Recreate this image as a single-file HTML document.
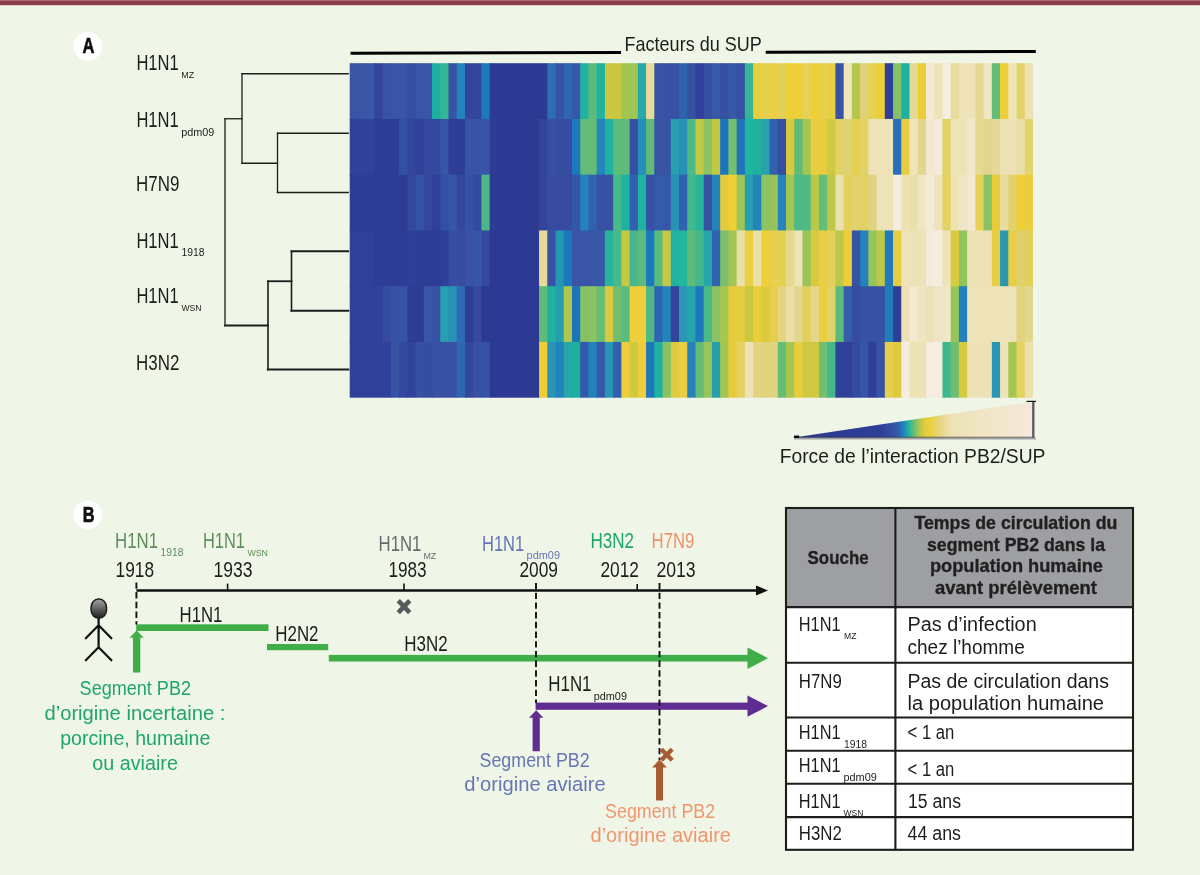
<!DOCTYPE html>
<html lang="fr"><head><meta charset="utf-8"><title>Figure PB2/SUP</title>
<style>html,body{margin:0;padding:0;background:#eff6e7;}body{width:1200px;height:875px;overflow:hidden;}svg{display:block;font-family:"Liberation Sans", sans-serif;}</style></head><body>
<svg width="1200" height="875" viewBox="0 0 1200 875">
<defs>
<linearGradient id="lg" x1="793.75" x2="1034.5" y1="0" y2="0" gradientUnits="userSpaceOnUse">
<stop offset="0.0010" stop-color="#2b3990"/>
<stop offset="0.3583" stop-color="#2e3f98"/>
<stop offset="0.4123" stop-color="#3652a4"/>
<stop offset="0.4372" stop-color="#3060af"/>
<stop offset="0.4579" stop-color="#1f86c0"/>
<stop offset="0.4766" stop-color="#1fb2a0"/>
<stop offset="0.4995" stop-color="#6abd74"/>
<stop offset="0.5244" stop-color="#b5c84b"/>
<stop offset="0.5493" stop-color="#e8cd3c"/>
<stop offset="0.5742" stop-color="#ecd045"/>
<stop offset="0.6075" stop-color="#e6d683"/>
<stop offset="0.6573" stop-color="#ede2b6"/>
<stop offset="0.8567" stop-color="#f3e6cc"/>
<stop offset="1.0000" stop-color="#f6e8dc"/>
</linearGradient>
<linearGradient id="hd" x1="0" y1="0" x2="0" y2="1"><stop offset="0" stop-color="#a2a2a2"/><stop offset="0.5" stop-color="#626262"/><stop offset="1" stop-color="#1c1c1c"/></linearGradient>
</defs>
<rect width="1200" height="875" fill="#eff6e7"/>
<rect width="1200" height="5.2" fill="#8b3d4e"/><rect width="1200" height="1" fill="#a96a77"/>
<g>
<rect x="349.70" y="63.20" width="17.47" height="56.75" fill="#3a55a5"/>
<rect x="366.17" y="63.20" width="9.23" height="56.75" fill="#3b58a6"/>
<rect x="374.40" y="63.20" width="9.23" height="56.75" fill="#31459b"/>
<rect x="382.63" y="63.20" width="9.23" height="56.75" fill="#3953a4"/>
<rect x="390.86" y="63.20" width="17.47" height="56.75" fill="#3a55a5"/>
<rect x="407.33" y="63.20" width="9.23" height="56.75" fill="#364fa2"/>
<rect x="415.56" y="63.20" width="17.47" height="56.75" fill="#3a55a5"/>
<rect x="432.03" y="63.20" width="9.23" height="56.75" fill="#1cb0a0"/>
<rect x="440.26" y="63.20" width="9.23" height="56.75" fill="#35b794"/>
<rect x="448.49" y="63.20" width="9.23" height="56.75" fill="#3953a4"/>
<rect x="456.72" y="63.20" width="9.23" height="56.75" fill="#2483bc"/>
<rect x="464.96" y="63.20" width="17.47" height="56.75" fill="#34469c"/>
<rect x="481.42" y="63.20" width="9.23" height="56.75" fill="#1b79bd"/>
<rect x="489.65" y="63.20" width="58.63" height="56.75" fill="#2c3a93"/>
<rect x="547.28" y="63.20" width="9.23" height="56.75" fill="#2e6cb5"/>
<rect x="555.51" y="63.20" width="9.23" height="56.75" fill="#3953a4"/>
<rect x="563.75" y="63.20" width="9.23" height="56.75" fill="#2f66b2"/>
<rect x="571.98" y="63.20" width="9.23" height="56.75" fill="#3558a8"/>
<rect x="580.21" y="63.20" width="9.23" height="56.75" fill="#22b29f"/>
<rect x="588.44" y="63.20" width="9.23" height="56.75" fill="#5abb7e"/>
<rect x="596.68" y="63.20" width="9.23" height="56.75" fill="#1fb3a0"/>
<rect x="604.91" y="63.20" width="17.47" height="56.75" fill="#cbc740"/>
<rect x="621.37" y="63.20" width="9.23" height="56.75" fill="#a2c653"/>
<rect x="629.61" y="63.20" width="9.23" height="56.75" fill="#a0c554"/>
<rect x="637.84" y="63.20" width="9.23" height="56.75" fill="#26a9a7"/>
<rect x="646.07" y="63.20" width="9.23" height="56.75" fill="#e8db9a"/>
<rect x="654.30" y="63.20" width="9.23" height="56.75" fill="#3953a4"/>
<rect x="662.54" y="63.20" width="9.23" height="56.75" fill="#3852a4"/>
<rect x="670.77" y="63.20" width="9.23" height="56.75" fill="#3752a4"/>
<rect x="679.00" y="63.20" width="9.23" height="56.75" fill="#2f63b0"/>
<rect x="687.23" y="63.20" width="9.23" height="56.75" fill="#3650a2"/>
<rect x="695.47" y="63.20" width="9.23" height="56.75" fill="#31409a"/>
<rect x="703.70" y="63.20" width="9.23" height="56.75" fill="#364fa2"/>
<rect x="711.93" y="63.20" width="9.23" height="56.75" fill="#345aa8"/>
<rect x="720.16" y="63.20" width="9.23" height="56.75" fill="#3750a2"/>
<rect x="728.40" y="63.20" width="9.23" height="56.75" fill="#3558a7"/>
<rect x="736.63" y="63.20" width="9.23" height="56.75" fill="#3750a2"/>
<rect x="744.86" y="63.20" width="9.23" height="56.75" fill="#32b694"/>
<rect x="753.09" y="63.20" width="9.23" height="56.75" fill="#e8cd3c"/>
<rect x="761.33" y="63.20" width="9.23" height="56.75" fill="#e5cf4e"/>
<rect x="769.56" y="63.20" width="9.23" height="56.75" fill="#eccf3f"/>
<rect x="777.79" y="63.20" width="9.23" height="56.75" fill="#e2d05c"/>
<rect x="786.02" y="63.20" width="17.47" height="56.75" fill="#efcf38"/>
<rect x="802.49" y="63.20" width="9.23" height="56.75" fill="#e4d157"/>
<rect x="810.72" y="63.20" width="9.23" height="56.75" fill="#eecf3a"/>
<rect x="818.95" y="63.20" width="9.23" height="56.75" fill="#e6d04e"/>
<rect x="827.19" y="63.20" width="9.23" height="56.75" fill="#e9ce40"/>
<rect x="835.42" y="63.20" width="9.23" height="56.75" fill="#3853a4"/>
<rect x="843.65" y="63.20" width="9.23" height="56.75" fill="#efe4bc"/>
<rect x="851.88" y="63.20" width="9.23" height="56.75" fill="#b3c84a"/>
<rect x="860.12" y="63.20" width="9.23" height="56.75" fill="#e0d27a"/>
<rect x="868.35" y="63.20" width="9.23" height="56.75" fill="#e5d052"/>
<rect x="876.58" y="63.20" width="9.23" height="56.75" fill="#eccd3a"/>
<rect x="884.81" y="63.20" width="9.23" height="56.75" fill="#2f3f98"/>
<rect x="893.05" y="63.20" width="9.23" height="56.75" fill="#85c166"/>
<rect x="901.28" y="63.20" width="9.23" height="56.75" fill="#1db1a2"/>
<rect x="909.51" y="63.20" width="9.23" height="56.75" fill="#e5d993"/>
<rect x="917.74" y="63.20" width="9.23" height="56.75" fill="#ebcd38"/>
<rect x="925.98" y="63.20" width="9.23" height="56.75" fill="#f3e9d5"/>
<rect x="934.21" y="63.20" width="9.23" height="56.75" fill="#eee3b7"/>
<rect x="942.44" y="63.20" width="9.23" height="56.75" fill="#f6ece2"/>
<rect x="950.67" y="63.20" width="9.23" height="56.75" fill="#e6dc9e"/>
<rect x="958.91" y="63.20" width="17.47" height="56.75" fill="#eee3b8"/>
<rect x="975.37" y="63.20" width="9.23" height="56.75" fill="#e4d990"/>
<rect x="983.60" y="63.20" width="9.23" height="56.75" fill="#f1e6c4"/>
<rect x="991.84" y="63.20" width="9.23" height="56.75" fill="#65bc78"/>
<rect x="1000.07" y="63.20" width="9.23" height="56.75" fill="#eecf3a"/>
<rect x="1008.30" y="63.20" width="9.23" height="56.75" fill="#efe4b8"/>
<rect x="1016.53" y="63.20" width="9.23" height="56.75" fill="#e3d36b"/>
<rect x="1024.77" y="63.20" width="8.23" height="56.75" fill="#ece1b3"/>
<rect x="349.70" y="118.95" width="25.70" height="56.75" fill="#2f419a"/>
<rect x="374.40" y="118.95" width="25.70" height="56.75" fill="#2d3d96"/>
<rect x="399.10" y="118.95" width="9.23" height="56.75" fill="#3450a3"/>
<rect x="407.33" y="118.95" width="9.23" height="56.75" fill="#32479d"/>
<rect x="415.56" y="118.95" width="9.23" height="56.75" fill="#2f409a"/>
<rect x="423.79" y="118.95" width="9.23" height="56.75" fill="#34479c"/>
<rect x="432.03" y="118.95" width="9.23" height="56.75" fill="#33499e"/>
<rect x="440.26" y="118.95" width="9.23" height="56.75" fill="#3856a6"/>
<rect x="448.49" y="118.95" width="17.47" height="56.75" fill="#2e3e97"/>
<rect x="464.96" y="118.95" width="9.23" height="56.75" fill="#3754a5"/>
<rect x="473.19" y="118.95" width="9.23" height="56.75" fill="#3855a5"/>
<rect x="481.42" y="118.95" width="9.23" height="56.75" fill="#3a55a5"/>
<rect x="489.65" y="118.95" width="50.40" height="56.75" fill="#2d3b95"/>
<rect x="539.05" y="118.95" width="9.23" height="56.75" fill="#33449a"/>
<rect x="547.28" y="118.95" width="9.23" height="56.75" fill="#384fa2"/>
<rect x="555.51" y="118.95" width="17.47" height="56.75" fill="#374da1"/>
<rect x="571.98" y="118.95" width="9.23" height="56.75" fill="#1b79bd"/>
<rect x="580.21" y="118.95" width="9.23" height="56.75" fill="#62bc78"/>
<rect x="588.44" y="118.95" width="9.23" height="56.75" fill="#64bc77"/>
<rect x="596.68" y="118.95" width="9.23" height="56.75" fill="#2484bb"/>
<rect x="604.91" y="118.95" width="9.23" height="56.75" fill="#1eb3a0"/>
<rect x="613.14" y="118.95" width="17.47" height="56.75" fill="#5fbb7a"/>
<rect x="629.61" y="118.95" width="9.23" height="56.75" fill="#3651a3"/>
<rect x="637.84" y="118.95" width="9.23" height="56.75" fill="#2490b7"/>
<rect x="646.07" y="118.95" width="9.23" height="56.75" fill="#60bb79"/>
<rect x="654.30" y="118.95" width="17.47" height="56.75" fill="#3852a4"/>
<rect x="670.77" y="118.95" width="9.23" height="56.75" fill="#28a0ae"/>
<rect x="679.00" y="118.95" width="9.23" height="56.75" fill="#2790b6"/>
<rect x="687.23" y="118.95" width="9.23" height="56.75" fill="#4cb986"/>
<rect x="695.47" y="118.95" width="9.23" height="56.75" fill="#c0c845"/>
<rect x="703.70" y="118.95" width="9.23" height="56.75" fill="#8cc363"/>
<rect x="711.93" y="118.95" width="9.23" height="56.75" fill="#c3c844"/>
<rect x="720.16" y="118.95" width="9.23" height="56.75" fill="#1c75bc"/>
<rect x="728.40" y="118.95" width="9.23" height="56.75" fill="#73be6f"/>
<rect x="736.63" y="118.95" width="9.23" height="56.75" fill="#1e73bb"/>
<rect x="744.86" y="118.95" width="9.23" height="56.75" fill="#1fb3a0"/>
<rect x="753.09" y="118.95" width="9.23" height="56.75" fill="#20b29e"/>
<rect x="761.33" y="118.95" width="9.23" height="56.75" fill="#27a3ab"/>
<rect x="769.56" y="118.95" width="9.23" height="56.75" fill="#3060af"/>
<rect x="777.79" y="118.95" width="9.23" height="56.75" fill="#364ea1"/>
<rect x="786.02" y="118.95" width="9.23" height="56.75" fill="#d9c93e"/>
<rect x="794.26" y="118.95" width="9.23" height="56.75" fill="#5fbb7a"/>
<rect x="802.49" y="118.95" width="9.23" height="56.75" fill="#a5c651"/>
<rect x="810.72" y="118.95" width="9.23" height="56.75" fill="#e8ce42"/>
<rect x="818.95" y="118.95" width="9.23" height="56.75" fill="#e8cd40"/>
<rect x="827.19" y="118.95" width="9.23" height="56.75" fill="#cdc943"/>
<rect x="835.42" y="118.95" width="9.23" height="56.75" fill="#e2d266"/>
<rect x="843.65" y="118.95" width="9.23" height="56.75" fill="#dfd176"/>
<rect x="851.88" y="118.95" width="9.23" height="56.75" fill="#e5d052"/>
<rect x="860.12" y="118.95" width="9.23" height="56.75" fill="#e3d266"/>
<rect x="868.35" y="118.95" width="25.70" height="56.75" fill="#eee3b8"/>
<rect x="893.05" y="118.95" width="9.23" height="56.75" fill="#2570b9"/>
<rect x="901.28" y="118.95" width="9.23" height="56.75" fill="#e7cd3f"/>
<rect x="909.51" y="118.95" width="9.23" height="56.75" fill="#eee4b8"/>
<rect x="917.74" y="118.95" width="9.23" height="56.75" fill="#e3d68c"/>
<rect x="925.98" y="118.95" width="9.23" height="56.75" fill="#f3e9d3"/>
<rect x="934.21" y="118.95" width="9.23" height="56.75" fill="#f5ebdd"/>
<rect x="942.44" y="118.95" width="9.23" height="56.75" fill="#e2d262"/>
<rect x="950.67" y="118.95" width="9.23" height="56.75" fill="#eee3b8"/>
<rect x="958.91" y="118.95" width="9.23" height="56.75" fill="#eee3b6"/>
<rect x="967.14" y="118.95" width="9.23" height="56.75" fill="#f2e6cb"/>
<rect x="975.37" y="118.95" width="9.23" height="56.75" fill="#e5d994"/>
<rect x="983.60" y="118.95" width="9.23" height="56.75" fill="#e3d58c"/>
<rect x="991.84" y="118.95" width="9.23" height="56.75" fill="#e5d898"/>
<rect x="1000.07" y="118.95" width="17.47" height="56.75" fill="#ede2b6"/>
<rect x="1016.53" y="118.95" width="9.23" height="56.75" fill="#e9dfa8"/>
<rect x="1024.77" y="118.95" width="8.23" height="56.75" fill="#e2d36e"/>
<rect x="349.70" y="174.70" width="58.63" height="56.75" fill="#2d3d96"/>
<rect x="407.33" y="174.70" width="9.23" height="56.75" fill="#32489d"/>
<rect x="415.56" y="174.70" width="9.23" height="56.75" fill="#3653a4"/>
<rect x="423.79" y="174.70" width="9.23" height="56.75" fill="#34499e"/>
<rect x="432.03" y="174.70" width="9.23" height="56.75" fill="#2f409a"/>
<rect x="440.26" y="174.70" width="9.23" height="56.75" fill="#3450a3"/>
<rect x="448.49" y="174.70" width="9.23" height="56.75" fill="#3656a6"/>
<rect x="456.72" y="174.70" width="9.23" height="56.75" fill="#33489d"/>
<rect x="464.96" y="174.70" width="9.23" height="56.75" fill="#3552a4"/>
<rect x="473.19" y="174.70" width="9.23" height="56.75" fill="#35499e"/>
<rect x="481.42" y="174.70" width="9.23" height="56.75" fill="#4cb885"/>
<rect x="489.65" y="174.70" width="50.40" height="56.75" fill="#2d3b95"/>
<rect x="539.05" y="174.70" width="9.23" height="56.75" fill="#33449a"/>
<rect x="547.28" y="174.70" width="25.70" height="56.75" fill="#374ca0"/>
<rect x="571.98" y="174.70" width="9.23" height="56.75" fill="#3555a6"/>
<rect x="580.21" y="174.70" width="9.23" height="56.75" fill="#2382bb"/>
<rect x="588.44" y="174.70" width="9.23" height="56.75" fill="#3062b0"/>
<rect x="596.68" y="174.70" width="17.47" height="56.75" fill="#3751a3"/>
<rect x="613.14" y="174.70" width="9.23" height="56.75" fill="#48b989"/>
<rect x="621.37" y="174.70" width="9.23" height="56.75" fill="#20b2a0"/>
<rect x="629.61" y="174.70" width="9.23" height="56.75" fill="#3060af"/>
<rect x="637.84" y="174.70" width="9.23" height="56.75" fill="#1db3a0"/>
<rect x="646.07" y="174.70" width="9.23" height="56.75" fill="#3650a2"/>
<rect x="654.30" y="174.70" width="9.23" height="56.75" fill="#335bab"/>
<rect x="662.54" y="174.70" width="9.23" height="56.75" fill="#3459a8"/>
<rect x="670.77" y="174.70" width="9.23" height="56.75" fill="#2892b5"/>
<rect x="679.00" y="174.70" width="9.23" height="56.75" fill="#3062b0"/>
<rect x="687.23" y="174.70" width="9.23" height="56.75" fill="#45b88b"/>
<rect x="695.47" y="174.70" width="9.23" height="56.75" fill="#24b59c"/>
<rect x="703.70" y="174.70" width="9.23" height="56.75" fill="#3750a2"/>
<rect x="711.93" y="174.70" width="9.23" height="56.75" fill="#2384bb"/>
<rect x="720.16" y="174.70" width="9.23" height="56.75" fill="#e4cb3e"/>
<rect x="728.40" y="174.70" width="9.23" height="56.75" fill="#efce37"/>
<rect x="736.63" y="174.70" width="9.23" height="56.75" fill="#9ac557"/>
<rect x="744.86" y="174.70" width="9.23" height="56.75" fill="#289fae"/>
<rect x="753.09" y="174.70" width="9.23" height="56.75" fill="#2383bb"/>
<rect x="761.33" y="174.70" width="9.23" height="56.75" fill="#8dc362"/>
<rect x="769.56" y="174.70" width="9.23" height="56.75" fill="#96c45b"/>
<rect x="777.79" y="174.70" width="9.23" height="56.75" fill="#2484bb"/>
<rect x="786.02" y="174.70" width="9.23" height="56.75" fill="#a2c653"/>
<rect x="794.26" y="174.70" width="9.23" height="56.75" fill="#4cb986"/>
<rect x="802.49" y="174.70" width="9.23" height="56.75" fill="#4fba84"/>
<rect x="810.72" y="174.70" width="9.23" height="56.75" fill="#bac848"/>
<rect x="818.95" y="174.70" width="9.23" height="56.75" fill="#66bd77"/>
<rect x="827.19" y="174.70" width="9.23" height="56.75" fill="#bec846"/>
<rect x="835.42" y="174.70" width="9.23" height="56.75" fill="#eadfb0"/>
<rect x="843.65" y="174.70" width="9.23" height="56.75" fill="#e4d15a"/>
<rect x="851.88" y="174.70" width="9.23" height="56.75" fill="#e2d26c"/>
<rect x="860.12" y="174.70" width="9.23" height="56.75" fill="#e2d266"/>
<rect x="868.35" y="174.70" width="9.23" height="56.75" fill="#e1d382"/>
<rect x="876.58" y="174.70" width="17.47" height="56.75" fill="#eee3b8"/>
<rect x="893.05" y="174.70" width="9.23" height="56.75" fill="#f6ece0"/>
<rect x="901.28" y="174.70" width="9.23" height="56.75" fill="#ece2b3"/>
<rect x="909.51" y="174.70" width="9.23" height="56.75" fill="#e9dfa8"/>
<rect x="917.74" y="174.70" width="9.23" height="56.75" fill="#f0e6c0"/>
<rect x="925.98" y="174.70" width="9.23" height="56.75" fill="#f4eada"/>
<rect x="934.21" y="174.70" width="9.23" height="56.75" fill="#eee4bc"/>
<rect x="942.44" y="174.70" width="9.23" height="56.75" fill="#e3d365"/>
<rect x="950.67" y="174.70" width="9.23" height="56.75" fill="#ede2b0"/>
<rect x="958.91" y="174.70" width="9.23" height="56.75" fill="#f0e5c6"/>
<rect x="967.14" y="174.70" width="9.23" height="56.75" fill="#f3e8d0"/>
<rect x="975.37" y="174.70" width="9.23" height="56.75" fill="#e4d158"/>
<rect x="983.60" y="174.70" width="9.23" height="56.75" fill="#89c264"/>
<rect x="991.84" y="174.70" width="9.23" height="56.75" fill="#e6cb3b"/>
<rect x="1000.07" y="174.70" width="9.23" height="56.75" fill="#e8dda0"/>
<rect x="1008.30" y="174.70" width="9.23" height="56.75" fill="#e1d16a"/>
<rect x="1016.53" y="174.70" width="9.23" height="56.75" fill="#eecf3a"/>
<rect x="1024.77" y="174.70" width="8.23" height="56.75" fill="#ebce40"/>
<rect x="349.70" y="230.45" width="25.70" height="56.75" fill="#2f409a"/>
<rect x="374.40" y="230.45" width="33.93" height="56.75" fill="#2d3d96"/>
<rect x="407.33" y="230.45" width="9.23" height="56.75" fill="#2f409a"/>
<rect x="415.56" y="230.45" width="25.70" height="56.75" fill="#2d3d96"/>
<rect x="440.26" y="230.45" width="9.23" height="56.75" fill="#2e3f98"/>
<rect x="448.49" y="230.45" width="17.47" height="56.75" fill="#384da1"/>
<rect x="464.96" y="230.45" width="9.23" height="56.75" fill="#3852a4"/>
<rect x="473.19" y="230.45" width="9.23" height="56.75" fill="#3856a6"/>
<rect x="481.42" y="230.45" width="9.23" height="56.75" fill="#354a9f"/>
<rect x="489.65" y="230.45" width="50.40" height="56.75" fill="#2c3a93"/>
<rect x="539.05" y="230.45" width="9.23" height="56.75" fill="#e8d998"/>
<rect x="547.28" y="230.45" width="9.23" height="56.75" fill="#3953a4"/>
<rect x="555.51" y="230.45" width="9.23" height="56.75" fill="#2696b5"/>
<rect x="563.75" y="230.45" width="9.23" height="56.75" fill="#1b79bd"/>
<rect x="571.98" y="230.45" width="9.23" height="56.75" fill="#3a55a5"/>
<rect x="580.21" y="230.45" width="17.47" height="56.75" fill="#3955a5"/>
<rect x="596.68" y="230.45" width="9.23" height="56.75" fill="#3658a7"/>
<rect x="604.91" y="230.45" width="9.23" height="56.75" fill="#26b59b"/>
<rect x="613.14" y="230.45" width="9.23" height="56.75" fill="#48b98a"/>
<rect x="621.37" y="230.45" width="9.23" height="56.75" fill="#c5c843"/>
<rect x="629.61" y="230.45" width="9.23" height="56.75" fill="#44b88c"/>
<rect x="637.84" y="230.45" width="9.23" height="56.75" fill="#5cbb7c"/>
<rect x="646.07" y="230.45" width="9.23" height="56.75" fill="#1c78bc"/>
<rect x="654.30" y="230.45" width="9.23" height="56.75" fill="#58ba7f"/>
<rect x="662.54" y="230.45" width="9.23" height="56.75" fill="#c6c843"/>
<rect x="670.77" y="230.45" width="9.23" height="56.75" fill="#1fb3a0"/>
<rect x="679.00" y="230.45" width="9.23" height="56.75" fill="#24b59c"/>
<rect x="687.23" y="230.45" width="9.23" height="56.75" fill="#5fbb7a"/>
<rect x="695.47" y="230.45" width="9.23" height="56.75" fill="#42b88d"/>
<rect x="703.70" y="230.45" width="9.23" height="56.75" fill="#26a5aa"/>
<rect x="711.93" y="230.45" width="9.23" height="56.75" fill="#3062b0"/>
<rect x="720.16" y="230.45" width="9.23" height="56.75" fill="#7bbf6b"/>
<rect x="728.40" y="230.45" width="9.23" height="56.75" fill="#a3c652"/>
<rect x="736.63" y="230.45" width="9.23" height="56.75" fill="#eadfa6"/>
<rect x="744.86" y="230.45" width="9.23" height="56.75" fill="#ebcf42"/>
<rect x="753.09" y="230.45" width="9.23" height="56.75" fill="#ebe0a8"/>
<rect x="761.33" y="230.45" width="9.23" height="56.75" fill="#eecf39"/>
<rect x="769.56" y="230.45" width="9.23" height="56.75" fill="#e6d04e"/>
<rect x="777.79" y="230.45" width="9.23" height="56.75" fill="#e5d050"/>
<rect x="786.02" y="230.45" width="9.23" height="56.75" fill="#e5d88f"/>
<rect x="794.26" y="230.45" width="9.23" height="56.75" fill="#eee3b5"/>
<rect x="802.49" y="230.45" width="9.23" height="56.75" fill="#97c55a"/>
<rect x="810.72" y="230.45" width="9.23" height="56.75" fill="#d6ca40"/>
<rect x="818.95" y="230.45" width="9.23" height="56.75" fill="#e8ce42"/>
<rect x="827.19" y="230.45" width="9.23" height="56.75" fill="#e4d058"/>
<rect x="835.42" y="230.45" width="9.23" height="56.75" fill="#bcc847"/>
<rect x="843.65" y="230.45" width="9.23" height="56.75" fill="#eecd38"/>
<rect x="851.88" y="230.45" width="9.23" height="56.75" fill="#3853a4"/>
<rect x="860.12" y="230.45" width="9.23" height="56.75" fill="#2381bb"/>
<rect x="868.35" y="230.45" width="9.23" height="56.75" fill="#96c55b"/>
<rect x="876.58" y="230.45" width="9.23" height="56.75" fill="#bdc846"/>
<rect x="884.81" y="230.45" width="9.23" height="56.75" fill="#217bbb"/>
<rect x="893.05" y="230.45" width="9.23" height="56.75" fill="#e8cd40"/>
<rect x="901.28" y="230.45" width="9.23" height="56.75" fill="#eee3b8"/>
<rect x="909.51" y="230.45" width="17.47" height="56.75" fill="#ece2b8"/>
<rect x="925.98" y="230.45" width="9.23" height="56.75" fill="#f5ebdd"/>
<rect x="934.21" y="230.45" width="9.23" height="56.75" fill="#f6ece0"/>
<rect x="942.44" y="230.45" width="9.23" height="56.75" fill="#ece3b8"/>
<rect x="950.67" y="230.45" width="9.23" height="56.75" fill="#d8ca3e"/>
<rect x="958.91" y="230.45" width="9.23" height="56.75" fill="#90c45f"/>
<rect x="967.14" y="230.45" width="25.70" height="56.75" fill="#ede2b6"/>
<rect x="991.84" y="230.45" width="9.23" height="56.75" fill="#e8ce42"/>
<rect x="1000.07" y="230.45" width="9.23" height="56.75" fill="#2a98b2"/>
<rect x="1008.30" y="230.45" width="9.23" height="56.75" fill="#e8ce44"/>
<rect x="1016.53" y="230.45" width="9.23" height="56.75" fill="#e0d16c"/>
<rect x="1024.77" y="230.45" width="8.23" height="56.75" fill="#e2d05a"/>
<rect x="349.70" y="286.20" width="33.93" height="56.75" fill="#2f419a"/>
<rect x="382.63" y="286.20" width="9.23" height="56.75" fill="#364ca0"/>
<rect x="390.86" y="286.20" width="9.23" height="56.75" fill="#3751a3"/>
<rect x="399.10" y="286.20" width="9.23" height="56.75" fill="#3853a4"/>
<rect x="407.33" y="286.20" width="17.47" height="56.75" fill="#2d3d96"/>
<rect x="423.79" y="286.20" width="9.23" height="56.75" fill="#3955a5"/>
<rect x="432.03" y="286.20" width="9.23" height="56.75" fill="#3852a4"/>
<rect x="440.26" y="286.20" width="9.23" height="56.75" fill="#279fb0"/>
<rect x="448.49" y="286.20" width="9.23" height="56.75" fill="#2592b6"/>
<rect x="456.72" y="286.20" width="9.23" height="56.75" fill="#2f6bb4"/>
<rect x="464.96" y="286.20" width="9.23" height="56.75" fill="#2e3e97"/>
<rect x="473.19" y="286.20" width="9.23" height="56.75" fill="#354a9f"/>
<rect x="481.42" y="286.20" width="58.63" height="56.75" fill="#2c3a93"/>
<rect x="539.05" y="286.20" width="9.23" height="56.75" fill="#5fbb7a"/>
<rect x="547.28" y="286.20" width="9.23" height="56.75" fill="#1fb2a0"/>
<rect x="555.51" y="286.20" width="9.23" height="56.75" fill="#259fae"/>
<rect x="563.75" y="286.20" width="9.23" height="56.75" fill="#b0c64c"/>
<rect x="571.98" y="286.20" width="9.23" height="56.75" fill="#1c75bc"/>
<rect x="580.21" y="286.20" width="9.23" height="56.75" fill="#84c166"/>
<rect x="588.44" y="286.20" width="9.23" height="56.75" fill="#8cc362"/>
<rect x="596.68" y="286.20" width="9.23" height="56.75" fill="#68bd75"/>
<rect x="604.91" y="286.20" width="9.23" height="56.75" fill="#d8ca40"/>
<rect x="613.14" y="286.20" width="9.23" height="56.75" fill="#72be70"/>
<rect x="621.37" y="286.20" width="9.23" height="56.75" fill="#5bbb7d"/>
<rect x="629.61" y="286.20" width="17.47" height="56.75" fill="#eece3a"/>
<rect x="646.07" y="286.20" width="9.23" height="56.75" fill="#4cb986"/>
<rect x="654.30" y="286.20" width="9.23" height="56.75" fill="#2f64b1"/>
<rect x="662.54" y="286.20" width="9.23" height="56.75" fill="#2385ba"/>
<rect x="670.77" y="286.20" width="9.23" height="56.75" fill="#33459b"/>
<rect x="679.00" y="286.20" width="9.23" height="56.75" fill="#2996b3"/>
<rect x="687.23" y="286.20" width="9.23" height="56.75" fill="#25a4ab"/>
<rect x="695.47" y="286.20" width="9.23" height="56.75" fill="#2078bc"/>
<rect x="703.70" y="286.20" width="9.23" height="56.75" fill="#49b988"/>
<rect x="711.93" y="286.20" width="9.23" height="56.75" fill="#8ac264"/>
<rect x="720.16" y="286.20" width="9.23" height="56.75" fill="#a6c650"/>
<rect x="728.40" y="286.20" width="9.23" height="56.75" fill="#e6cc3d"/>
<rect x="736.63" y="286.20" width="9.23" height="56.75" fill="#e4cc3f"/>
<rect x="744.86" y="286.20" width="9.23" height="56.75" fill="#c9c843"/>
<rect x="753.09" y="286.20" width="9.23" height="56.75" fill="#eccd38"/>
<rect x="761.33" y="286.20" width="9.23" height="56.75" fill="#dcca3e"/>
<rect x="769.56" y="286.20" width="9.23" height="56.75" fill="#e5ce4a"/>
<rect x="777.79" y="286.20" width="9.23" height="56.75" fill="#e4d481"/>
<rect x="786.02" y="286.20" width="9.23" height="56.75" fill="#e9dea6"/>
<rect x="794.26" y="286.20" width="9.23" height="56.75" fill="#e2d68d"/>
<rect x="802.49" y="286.20" width="9.23" height="56.75" fill="#e4d058"/>
<rect x="810.72" y="286.20" width="9.23" height="56.75" fill="#e4d78c"/>
<rect x="818.95" y="286.20" width="9.23" height="56.75" fill="#e9ce42"/>
<rect x="827.19" y="286.20" width="9.23" height="56.75" fill="#e2d26a"/>
<rect x="835.42" y="286.20" width="9.23" height="56.75" fill="#5fbb7a"/>
<rect x="843.65" y="286.20" width="9.23" height="56.75" fill="#355dab"/>
<rect x="851.88" y="286.20" width="9.23" height="56.75" fill="#364ea1"/>
<rect x="860.12" y="286.20" width="9.23" height="56.75" fill="#3853a4"/>
<rect x="868.35" y="286.20" width="17.47" height="56.75" fill="#3751a3"/>
<rect x="884.81" y="286.20" width="9.23" height="56.75" fill="#217cbb"/>
<rect x="893.05" y="286.20" width="9.23" height="56.75" fill="#2f3f98"/>
<rect x="901.28" y="286.20" width="9.23" height="56.75" fill="#ede2b6"/>
<rect x="909.51" y="286.20" width="9.23" height="56.75" fill="#f3e8d0"/>
<rect x="917.74" y="286.20" width="9.23" height="56.75" fill="#efe4be"/>
<rect x="925.98" y="286.20" width="9.23" height="56.75" fill="#ece1b8"/>
<rect x="934.21" y="286.20" width="9.23" height="56.75" fill="#efe5c2"/>
<rect x="942.44" y="286.20" width="9.23" height="56.75" fill="#f1e7c8"/>
<rect x="950.67" y="286.20" width="9.23" height="56.75" fill="#96c55b"/>
<rect x="958.91" y="286.20" width="9.23" height="56.75" fill="#2381bb"/>
<rect x="967.14" y="286.20" width="50.40" height="56.75" fill="#eee3b8"/>
<rect x="1016.53" y="286.20" width="9.23" height="56.75" fill="#e0d37e"/>
<rect x="1024.77" y="286.20" width="8.23" height="56.75" fill="#e3d790"/>
<rect x="349.70" y="341.95" width="42.16" height="55.75" fill="#2f419a"/>
<rect x="390.86" y="341.95" width="9.23" height="55.75" fill="#3855a5"/>
<rect x="399.10" y="341.95" width="9.23" height="55.75" fill="#33479c"/>
<rect x="407.33" y="341.95" width="9.23" height="55.75" fill="#31449b"/>
<rect x="415.56" y="341.95" width="9.23" height="55.75" fill="#3650a2"/>
<rect x="423.79" y="341.95" width="9.23" height="55.75" fill="#354ea1"/>
<rect x="432.03" y="341.95" width="25.70" height="55.75" fill="#3851a3"/>
<rect x="456.72" y="341.95" width="9.23" height="55.75" fill="#2f66b2"/>
<rect x="464.96" y="341.95" width="9.23" height="55.75" fill="#33489d"/>
<rect x="473.19" y="341.95" width="9.23" height="55.75" fill="#3852a3"/>
<rect x="481.42" y="341.95" width="9.23" height="55.75" fill="#3853a4"/>
<rect x="489.65" y="341.95" width="50.40" height="55.75" fill="#2c3a93"/>
<rect x="539.05" y="341.95" width="9.23" height="55.75" fill="#f0cc34"/>
<rect x="547.28" y="341.95" width="9.23" height="55.75" fill="#2a93b6"/>
<rect x="555.51" y="341.95" width="9.23" height="55.75" fill="#2282bb"/>
<rect x="563.75" y="341.95" width="9.23" height="55.75" fill="#27a7a8"/>
<rect x="571.98" y="341.95" width="9.23" height="55.75" fill="#1cb09f"/>
<rect x="580.21" y="341.95" width="9.23" height="55.75" fill="#3459aa"/>
<rect x="588.44" y="341.95" width="9.23" height="55.75" fill="#2381bb"/>
<rect x="596.68" y="341.95" width="9.23" height="55.75" fill="#3558a8"/>
<rect x="604.91" y="341.95" width="9.23" height="55.75" fill="#2a94b4"/>
<rect x="613.14" y="341.95" width="9.23" height="55.75" fill="#3061af"/>
<rect x="621.37" y="341.95" width="9.23" height="55.75" fill="#eecd38"/>
<rect x="629.61" y="341.95" width="9.23" height="55.75" fill="#cfc941"/>
<rect x="637.84" y="341.95" width="9.23" height="55.75" fill="#eece3a"/>
<rect x="646.07" y="341.95" width="9.23" height="55.75" fill="#2077bc"/>
<rect x="654.30" y="341.95" width="9.23" height="55.75" fill="#20b2a0"/>
<rect x="662.54" y="341.95" width="9.23" height="55.75" fill="#87c265"/>
<rect x="670.77" y="341.95" width="9.23" height="55.75" fill="#dccb3e"/>
<rect x="679.00" y="341.95" width="9.23" height="55.75" fill="#eace3f"/>
<rect x="687.23" y="341.95" width="9.23" height="55.75" fill="#2582ba"/>
<rect x="695.47" y="341.95" width="9.23" height="55.75" fill="#65bc76"/>
<rect x="703.70" y="341.95" width="9.23" height="55.75" fill="#96c55b"/>
<rect x="711.93" y="341.95" width="9.23" height="55.75" fill="#27a0ae"/>
<rect x="720.16" y="341.95" width="9.23" height="55.75" fill="#a3c652"/>
<rect x="728.40" y="341.95" width="9.23" height="55.75" fill="#e6cc3d"/>
<rect x="736.63" y="341.95" width="9.23" height="55.75" fill="#e3d162"/>
<rect x="744.86" y="341.95" width="9.23" height="55.75" fill="#eee3b8"/>
<rect x="753.09" y="341.95" width="9.23" height="55.75" fill="#e3d47d"/>
<rect x="761.33" y="341.95" width="17.47" height="55.75" fill="#e1d27d"/>
<rect x="777.79" y="341.95" width="9.23" height="55.75" fill="#66bd76"/>
<rect x="786.02" y="341.95" width="9.23" height="55.75" fill="#a5c651"/>
<rect x="794.26" y="341.95" width="9.23" height="55.75" fill="#e9cd3c"/>
<rect x="802.49" y="341.95" width="9.23" height="55.75" fill="#cdc943"/>
<rect x="810.72" y="341.95" width="9.23" height="55.75" fill="#d3c941"/>
<rect x="818.95" y="341.95" width="9.23" height="55.75" fill="#74be6f"/>
<rect x="827.19" y="341.95" width="9.23" height="55.75" fill="#45b88b"/>
<rect x="835.42" y="341.95" width="17.47" height="55.75" fill="#30419a"/>
<rect x="851.88" y="341.95" width="9.23" height="55.75" fill="#354a9f"/>
<rect x="860.12" y="341.95" width="9.23" height="55.75" fill="#3755a6"/>
<rect x="868.35" y="341.95" width="9.23" height="55.75" fill="#2f3f98"/>
<rect x="876.58" y="341.95" width="9.23" height="55.75" fill="#3853a4"/>
<rect x="884.81" y="341.95" width="9.23" height="55.75" fill="#e5cf4c"/>
<rect x="893.05" y="341.95" width="9.23" height="55.75" fill="#dccb3e"/>
<rect x="901.28" y="341.95" width="9.23" height="55.75" fill="#f6ece0"/>
<rect x="909.51" y="341.95" width="9.23" height="55.75" fill="#ece2b4"/>
<rect x="917.74" y="341.95" width="9.23" height="55.75" fill="#ede2b8"/>
<rect x="925.98" y="341.95" width="17.47" height="55.75" fill="#f6ece0"/>
<rect x="942.44" y="341.95" width="9.23" height="55.75" fill="#3fb88e"/>
<rect x="950.67" y="341.95" width="9.23" height="55.75" fill="#72be70"/>
<rect x="958.91" y="341.95" width="9.23" height="55.75" fill="#d6ca40"/>
<rect x="967.14" y="341.95" width="25.70" height="55.75" fill="#ede2b6"/>
<rect x="991.84" y="341.95" width="9.23" height="55.75" fill="#2a96b4"/>
<rect x="1000.07" y="341.95" width="9.23" height="55.75" fill="#eee3b8"/>
<rect x="1008.30" y="341.95" width="9.23" height="55.75" fill="#a6c650"/>
<rect x="1016.53" y="341.95" width="9.23" height="55.75" fill="#e3d25e"/>
<rect x="1024.77" y="341.95" width="8.23" height="55.75" fill="#ebe0ae"/>
</g>
<polygon points="350.5,51.65 621,50.95 621,54.05 350.5,54.75" fill="#000"/>
<polygon points="765.7,50.65 1035.8,49.95 1035.8,53.05 765.7,53.75" fill="#000"/>
<text x="624.60" y="50.90" font-size="21.00" fill="#1d1d1b" textLength="137.10" lengthAdjust="spacingAndGlyphs" >Facteurs du SUP</text>
<circle cx="87.7" cy="46.4" r="14.3" fill="#fff"/>
<text x="82.40" y="53.40" font-size="22.00" fill="#111" textLength="11.90" lengthAdjust="spacingAndGlyphs" font-weight="bold" stroke="#111" stroke-width="0.7" stroke-linejoin="round">A</text>
<circle cx="87.6" cy="514.9" r="14.2" fill="#fff"/>
<text x="82.70" y="522.00" font-size="22.00" fill="#111" textLength="11.80" lengthAdjust="spacingAndGlyphs" font-weight="bold" stroke="#111" stroke-width="0.7" stroke-linejoin="round">B</text>
<text x="136.40" y="69.70" font-size="21.50" fill="#1d1d1b" textLength="42.30" lengthAdjust="spacingAndGlyphs" >H1N1</text>
<text x="181.20" y="78.30" font-size="8.70" fill="#1d1d1b" textLength="12.90" lengthAdjust="spacingAndGlyphs" >MZ</text>
<text x="136.40" y="127.00" font-size="21.50" fill="#1d1d1b" textLength="42.30" lengthAdjust="spacingAndGlyphs" >H1N1</text>
<text x="181.20" y="135.90" font-size="11.30" fill="#1d1d1b" textLength="33.20" lengthAdjust="spacingAndGlyphs" >pdm09</text>
<text x="136.00" y="191.40" font-size="21.50" fill="#1d1d1b" textLength="43.30" lengthAdjust="spacingAndGlyphs" >H7N9</text>
<text x="136.40" y="247.70" font-size="21.50" fill="#1d1d1b" textLength="42.30" lengthAdjust="spacingAndGlyphs" >H1N1</text>
<text x="181.50" y="256.30" font-size="11.30" fill="#1d1d1b" textLength="23.00" lengthAdjust="spacingAndGlyphs" >1918</text>
<text x="136.40" y="303.20" font-size="21.50" fill="#1d1d1b" textLength="42.30" lengthAdjust="spacingAndGlyphs" >H1N1</text>
<text x="181.50" y="311.30" font-size="8.70" fill="#1d1d1b" textLength="20.00" lengthAdjust="spacingAndGlyphs" >WSN</text>
<text x="136.00" y="369.50" font-size="21.50" fill="#1d1d1b" textLength="43.30" lengthAdjust="spacingAndGlyphs" >H3N2</text>
<g stroke-linecap="square">
<line x1="242.00" y1="73.75" x2="348.20" y2="73.75" stroke="#1d1d1b" stroke-width="1.30" />
<line x1="242.00" y1="73.75" x2="242.00" y2="163.25" stroke="#1d1d1b" stroke-width="1.30" />
<line x1="225.00" y1="118.75" x2="242.00" y2="118.75" stroke="#1d1d1b" stroke-width="1.30" />
<line x1="225.00" y1="118.75" x2="225.00" y2="325.50" stroke="#1d1d1b" stroke-width="1.30" />
<line x1="277.50" y1="133.25" x2="348.20" y2="133.25" stroke="#1d1d1b" stroke-width="1.30" />
<line x1="277.50" y1="133.25" x2="277.50" y2="192.50" stroke="#1d1d1b" stroke-width="1.30" />
<line x1="277.50" y1="192.50" x2="348.20" y2="192.50" stroke="#1d1d1b" stroke-width="1.30" />
<line x1="242.00" y1="163.25" x2="277.50" y2="163.25" stroke="#1d1d1b" stroke-width="1.30" />
<line x1="225.00" y1="325.50" x2="268.00" y2="325.50" stroke="#1d1d1b" stroke-width="1.80" />
<line x1="268.00" y1="281.25" x2="268.00" y2="369.50" stroke="#1d1d1b" stroke-width="1.60" />
<line x1="268.00" y1="369.50" x2="348.20" y2="369.50" stroke="#1d1d1b" stroke-width="2.20" />
<line x1="268.00" y1="281.25" x2="291.50" y2="281.25" stroke="#1d1d1b" stroke-width="1.80" />
<line x1="291.50" y1="251.25" x2="291.50" y2="310.75" stroke="#1d1d1b" stroke-width="1.60" />
<line x1="291.50" y1="251.25" x2="348.20" y2="251.25" stroke="#1d1d1b" stroke-width="1.80" />
<line x1="291.50" y1="310.75" x2="348.20" y2="310.75" stroke="#1d1d1b" stroke-width="2.00" />
</g>
<line x1="794" y1="438.7" x2="1036" y2="438.7" stroke="#a3a4a8" stroke-width="1.8"/>
<polygon points="794.2,437.4 1033.6,437.4 1033.6,401.4" fill="url(#lg)"/>
<line x1="797" y1="437.3" x2="1034.5" y2="437.3" stroke="#33343a" stroke-width="1.1" opacity="0.75"/>
<line x1="1033.3" y1="401.2" x2="1033.3" y2="437.8" stroke="#565962" stroke-width="2.3"/>
<line x1="1026.5" y1="401.4" x2="1036" y2="401.4" stroke="#111" stroke-width="1.2"/>
<rect x="793.8" y="435.5" width="5.5" height="2.5" rx="1" fill="#0a0a0a"/>
<text x="779.70" y="463.40" font-size="20.50" fill="#1d1d1b" textLength="265.80" lengthAdjust="spacingAndGlyphs" >Force de l’interaction PB2/SUP</text>
<text x="115.00" y="547.50" font-size="21.50" fill="#5f8d5e" textLength="43.00" lengthAdjust="spacingAndGlyphs" >H1N1</text>
<text x="160.60" y="556.40" font-size="11.20" fill="#5f8d5e" textLength="22.80" lengthAdjust="spacingAndGlyphs" >1918</text>
<text x="203.00" y="547.50" font-size="21.50" fill="#5f8d5e" textLength="42.00" lengthAdjust="spacingAndGlyphs" >H1N1</text>
<text x="247.40" y="556.10" font-size="9.80" fill="#5f8d5e" textLength="20.60" lengthAdjust="spacingAndGlyphs" >WSN</text>
<text x="378.60" y="551.00" font-size="21.50" fill="#696a6c" textLength="42.80" lengthAdjust="spacingAndGlyphs" >H1N1</text>
<text x="423.40" y="558.60" font-size="9.30" fill="#696a6c" textLength="12.80" lengthAdjust="spacingAndGlyphs" >MZ</text>
<text x="482.00" y="550.60" font-size="21.50" fill="#6675b5" textLength="42.20" lengthAdjust="spacingAndGlyphs" >H1N1</text>
<text x="526.60" y="559.00" font-size="11.20" fill="#6675b5" textLength="33.40" lengthAdjust="spacingAndGlyphs" >pdm09</text>
<text x="590.40" y="548.00" font-size="21.50" fill="#1fa56a" textLength="43.60" lengthAdjust="spacingAndGlyphs" >H3N2</text>
<text x="651.60" y="548.00" font-size="21.50" fill="#f0906a" textLength="42.80" lengthAdjust="spacingAndGlyphs" >H7N9</text>
<text x="115.60" y="577.40" font-size="21.50" fill="#1d1d1b" textLength="38.40" lengthAdjust="spacingAndGlyphs" >1918</text>
<text x="213.60" y="577.40" font-size="21.50" fill="#1d1d1b" textLength="39.00" lengthAdjust="spacingAndGlyphs" >1933</text>
<text x="388.40" y="577.40" font-size="21.50" fill="#1d1d1b" textLength="38.20" lengthAdjust="spacingAndGlyphs" >1983</text>
<text x="519.40" y="577.40" font-size="21.50" fill="#1d1d1b" textLength="38.60" lengthAdjust="spacingAndGlyphs" >2009</text>
<text x="600.40" y="577.40" font-size="21.50" fill="#1d1d1b" textLength="38.60" lengthAdjust="spacingAndGlyphs" >2012</text>
<text x="656.40" y="577.40" font-size="21.50" fill="#1d1d1b" textLength="39.20" lengthAdjust="spacingAndGlyphs" >2013</text>
<line x1="136.40" y1="590.50" x2="758.00" y2="590.50" stroke="#111" stroke-width="2.60" />
<polygon points="756,585.6 768,590.5 756,595.4" fill="#111"/>
<line x1="227.60" y1="583.60" x2="227.60" y2="590.00" stroke="#111" stroke-width="1.60" />
<line x1="404.00" y1="583.60" x2="404.00" y2="590.00" stroke="#111" stroke-width="1.60" />
<line x1="637.20" y1="584.00" x2="637.20" y2="590.00" stroke="#111" stroke-width="1.60" />
<g stroke="#111" stroke-width="2.25" stroke-linecap="round" fill="none">
<path d="M98.6 618.5 V647.3 M98.6 625.2 L85.8 638.2 M98.6 625.2 L111.4 638.2 M98.6 647.3 L85.8 660.2 M98.6 647.3 L111.4 660.2"/>
</g>
<rect x="91.1" y="599.1" width="15.4" height="19.2" rx="7.3" ry="8.3" fill="url(#hd)" stroke="#1c1c1c" stroke-width="1.5"/>
<rect x="136.2" y="624.3" width="132.3" height="6.7" fill="#3fae49"/>
<rect x="267" y="644" width="61.2" height="6.2" fill="#3fae49"/>
<rect x="328.8" y="654.9" width="420" height="6.6" fill="#3fae49"/>
<polygon points="747.5,647.5 768,658.2 747.5,668.9" fill="#3fae49"/>
<polygon points="133,672.6 133,637.8 129.5,637.8 136.65,630.4 143.8,637.8 140.3,637.8 140.3,672.6" fill="#3fae49"/>
<text x="179.60" y="622.00" font-size="21.50" fill="#1d1d1b" textLength="42.80" lengthAdjust="spacingAndGlyphs" >H1N1</text>
<text x="275.30" y="641.10" font-size="21.50" fill="#1d1d1b" textLength="43.20" lengthAdjust="spacingAndGlyphs" >H2N2</text>
<text x="404.30" y="650.90" font-size="21.50" fill="#1d1d1b" textLength="43.40" lengthAdjust="spacingAndGlyphs" >H3N2</text>
<path d="M398.3 600.7 L409.7 612.7 M409.7 600.7 L398.3 612.7" stroke="#56595d" stroke-width="4.6" fill="none"/>
<rect x="535.6" y="702.6" width="214" height="7.2" fill="#5f2c91"/>
<polygon points="747.5,695.5 768,706.1 747.5,716.7" fill="#5f2c91"/>
<polygon points="532.6,751.2 532.6,717.7 529,717.7 536.2,710.2 543.4,717.7 539.8,717.7 539.8,751.2" fill="#5f2c91"/>
<text x="548.30" y="691.40" font-size="21.50" fill="#1d1d1b" textLength="43.20" lengthAdjust="spacingAndGlyphs" >H1N1</text>
<text x="593.70" y="699.90" font-size="11.30" fill="#1d1d1b" textLength="33.30" lengthAdjust="spacingAndGlyphs" >pdm09</text>
<line x1="136.40" y1="582.40" x2="136.40" y2="624.50" stroke="#111" stroke-width="1.90" stroke-dasharray="6.4 3.3"/>
<line x1="536.00" y1="583.00" x2="536.00" y2="703.00" stroke="#111" stroke-width="1.90" stroke-dasharray="6.4 3.3"/>
<line x1="659.50" y1="583.00" x2="659.50" y2="760.00" stroke="#111" stroke-width="1.90" stroke-dasharray="6.4 3.3"/>
<polygon points="656,800.4 656,767.4 652.1,767.4 659.5,759.6 666.9,767.4 663,767.4 663,800.4" fill="#a85a32"/>
<path d="M661.2 749.2 L672.2 760.2 M672.2 749.2 L661.2 760.2" stroke="#a85a32" stroke-width="4.4" fill="none"/>
<text x="79.60" y="695.20" font-size="20.50" fill="#1fa56a" textLength="111.40" lengthAdjust="spacingAndGlyphs" >Segment PB2</text>
<text x="44.40" y="719.60" font-size="20.50" fill="#1fa56a" textLength="181.00" lengthAdjust="spacingAndGlyphs" >d’origine incertaine :</text>
<text x="60.20" y="744.70" font-size="20.50" fill="#1fa56a" textLength="150.10" lengthAdjust="spacingAndGlyphs" >porcine, humaine</text>
<text x="92.20" y="769.80" font-size="20.50" fill="#1fa56a" textLength="85.70" lengthAdjust="spacingAndGlyphs" >ou aviaire</text>
<text x="479.50" y="767.30" font-size="20.50" fill="#6675b5" textLength="110.20" lengthAdjust="spacingAndGlyphs" >Segment PB2</text>
<text x="464.30" y="791.30" font-size="20.50" fill="#6675b5" textLength="141.40" lengthAdjust="spacingAndGlyphs" >d’origine aviaire</text>
<text x="605.10" y="817.70" font-size="20.50" fill="#f2956e" textLength="110.00" lengthAdjust="spacingAndGlyphs" >Segment PB2</text>
<text x="590.50" y="842.00" font-size="20.50" fill="#f2956e" textLength="140.50" lengthAdjust="spacingAndGlyphs" >d’origine aviaire</text>
<rect x="786.0" y="508.0" width="347.0" height="341.8" fill="#fff"/>
<rect x="786.0" y="508.0" width="347.0" height="99.1" fill="#9d9fa2"/>
<g stroke="#1d1d1b" stroke-width="2.1" fill="none">
<rect x="786.0" y="508.0" width="347.0" height="341.8"/>
<line x1="895.4" y1="508.0" x2="895.4" y2="849.8"/>
<line x1="786.0" y1="607.1" x2="1133.0" y2="607.1"/>
<line x1="786.0" y1="662.7" x2="1133.0" y2="662.7"/>
<line x1="786.0" y1="717.5" x2="1133.0" y2="717.5"/>
<line x1="786.0" y1="750.7" x2="1133.0" y2="750.7"/>
<line x1="786.0" y1="783.7" x2="1133.0" y2="783.7"/>
<line x1="786.0" y1="817.1" x2="1133.0" y2="817.1"/>
</g>
<text x="807.60" y="564.40" font-size="18.60" fill="#231f20" textLength="61.00" lengthAdjust="spacingAndGlyphs" font-weight="bold" stroke="#231f20" stroke-width="0.35">Souche</text>
<text x="914.40" y="528.60" font-size="18.60" fill="#231f20" textLength="203.00" lengthAdjust="spacingAndGlyphs" font-weight="bold" stroke="#231f20" stroke-width="0.35">Temps de circulation du</text>
<text x="927.00" y="550.60" font-size="18.60" fill="#231f20" textLength="178.00" lengthAdjust="spacingAndGlyphs" font-weight="bold" stroke="#231f20" stroke-width="0.35">segment PB2 dans la</text>
<text x="930.00" y="572.00" font-size="18.60" fill="#231f20" textLength="173.00" lengthAdjust="spacingAndGlyphs" font-weight="bold" stroke="#231f20" stroke-width="0.35">population humaine</text>
<text x="935.00" y="594.00" font-size="18.60" fill="#231f20" textLength="162.00" lengthAdjust="spacingAndGlyphs" font-weight="bold" stroke="#231f20" stroke-width="0.35">avant prélèvement</text>
<text x="798.80" y="631.40" font-size="19.50" fill="#1d1d1b" textLength="41.80" lengthAdjust="spacingAndGlyphs" >H1N1</text>
<text x="844.00" y="639.40" font-size="8.30" fill="#1d1d1b" textLength="12.40" lengthAdjust="spacingAndGlyphs" >MZ</text>
<text x="907.50" y="631.40" font-size="19.50" fill="#1d1d1b" textLength="129.20" lengthAdjust="spacingAndGlyphs" >Pas d’infection</text>
<text x="907.50" y="654.00" font-size="19.50" fill="#1d1d1b" textLength="117.20" lengthAdjust="spacingAndGlyphs" >chez l’homme</text>
<text x="798.80" y="687.90" font-size="19.50" fill="#1d1d1b" textLength="43.00" lengthAdjust="spacingAndGlyphs" >H7N9</text>
<text x="907.50" y="687.90" font-size="19.50" fill="#1d1d1b" textLength="201.40" lengthAdjust="spacingAndGlyphs" >Pas de circulation dans</text>
<text x="907.50" y="710.10" font-size="19.50" fill="#1d1d1b" textLength="196.50" lengthAdjust="spacingAndGlyphs" >la population humaine</text>
<text x="798.80" y="739.10" font-size="19.50" fill="#1d1d1b" textLength="41.80" lengthAdjust="spacingAndGlyphs" >H1N1</text>
<text x="844.00" y="747.60" font-size="10.60" fill="#1d1d1b" textLength="23.00" lengthAdjust="spacingAndGlyphs" >1918</text>
<text x="907.60" y="739.10" font-size="19.50" fill="#1d1d1b" textLength="46.80" lengthAdjust="spacingAndGlyphs" >&lt; 1 an</text>
<text x="798.80" y="772.10" font-size="19.50" fill="#1d1d1b" textLength="41.80" lengthAdjust="spacingAndGlyphs" >H1N1</text>
<text x="843.40" y="781.40" font-size="10.60" fill="#1d1d1b" textLength="33.40" lengthAdjust="spacingAndGlyphs" >pdm09</text>
<text x="907.60" y="775.90" font-size="19.50" fill="#1d1d1b" textLength="46.80" lengthAdjust="spacingAndGlyphs" >&lt; 1 an</text>
<text x="798.80" y="807.70" font-size="19.50" fill="#1d1d1b" textLength="41.80" lengthAdjust="spacingAndGlyphs" >H1N1</text>
<text x="843.60" y="816.00" font-size="8.30" fill="#1d1d1b" textLength="19.80" lengthAdjust="spacingAndGlyphs" >WSN</text>
<text x="908.00" y="807.70" font-size="19.50" fill="#1d1d1b" textLength="53.00" lengthAdjust="spacingAndGlyphs" >15 ans</text>
<text x="798.80" y="840.10" font-size="19.50" fill="#1d1d1b" textLength="43.00" lengthAdjust="spacingAndGlyphs" >H3N2</text>
<text x="907.60" y="840.10" font-size="19.50" fill="#1d1d1b" textLength="53.40" lengthAdjust="spacingAndGlyphs" >44 ans</text>
</svg></body></html>
